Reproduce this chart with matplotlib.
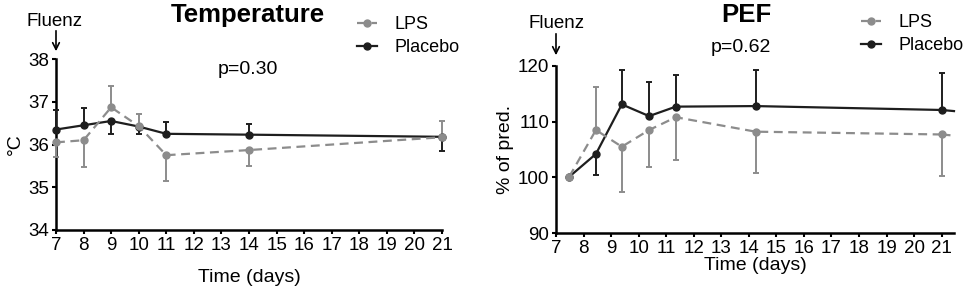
import matplotlib
matplotlib.use("Agg")
import matplotlib.pyplot as plt
from matplotlib.lines import Line2D
import numpy as np

plt.rcParams['font.family'] = ['Liberation Sans', 'DejaVu Sans']

# Temperature panel
temp_days = [7, 8, 9, 10, 11, 14, 21]
temp_placebo = [36.35, 36.45, 36.55, 36.42, 36.25, 36.23, 36.18]
temp_placebo_lo = [0, 0, 0.30, 0.17, 0, 0, 0.33]
temp_placebo_hi = [0.45, 0.40, 0, 0, 0.27, 0.24, 0]
temp_lps = [36.05, 36.10, 36.87, 36.43, 35.75, 35.87, 36.17]
temp_lps_lo = [0.35, 0.62, 0, 0, 0.60, 0.37, 0]
temp_lps_hi = [0, 0, 0.50, 0.29, 0, 0, 0.37]

# PEF panel
pef_days = [7.48, 8.45, 9.39, 10.38, 11.35, 14.25, 21.0]
pef_placebo = [100.1, 104.2, 113.1, 111.0, 112.7, 112.8, 112.1]
pef_placebo_lo = [0, 3.8, 0, 0, 0, 0, 0]
pef_placebo_hi = [0, 0, 6.1, 6.2, 5.6, 6.4, 6.6]
pef_lps = [100.1, 108.5, 105.5, 108.5, 110.8, 108.2, 107.7]
pef_lps_lo = [0, 0, 8.2, 6.6, 7.7, 7.5, 7.4]
pef_lps_hi = [0, 7.7, 0, 0, 0, 0, 0]
# lines run on a little past the last point
pef_tail_day = 21.45
pef_tail_placebo = 111.9
pef_tail_lps = 107.5

BLACK = "#1e1e1e"
GRAY = "#8c8c8c"
DASH = (0, (4, 2.5))

fig = plt.figure(figsize=(9.68, 2.89), dpi=100)
W, H = 968, 289


def px(x0, y0, x1, y1):
    return [x0 / W, 1 - y1 / H, (x1 - x0) / W, (y1 - y0) / H]


def style(ax):
    for s in ["top", "right"]:
        ax.spines[s].set_visible(False)
    for s in ["left", "bottom"]:
        ax.spines[s].set_linewidth(1.8)
        ax.spines[s].set_color("black")
    ax.tick_params(direction="out", length=3, width=1.5, labelsize=13.5, pad=2)


def draw(ax, x, y, lo, hi, color, ls):
    ax.errorbar(x, y, yerr=[lo, hi], color=color, ls=ls, lw=1.6, marker="o",
                ms=5, capsize=2.5, elinewidth=1.4, capthick=1.4,
                clip_on=False, zorder=3)


def legend(ax, x0, y0):
    handles = [Line2D([], [], color=GRAY, ls=DASH, lw=1.6, marker="o", ms=5),
               Line2D([], [], color=BLACK, ls="-", lw=1.6, marker="o", ms=5)]
    ax.legend(handles, ["LPS", "Placebo"], loc="upper left",
              bbox_to_anchor=(x0 / W, 1 - y0 / H), bbox_transform=fig.transFigure,
              frameon=False, fontsize=13, handlelength=1.1, handletextpad=1.0,
              labelspacing=0.35, borderpad=0, borderaxespad=0)


# ---- Temperature ----
ax1 = fig.add_axes(px(56, 59, 442, 230))
draw(ax1, temp_days, temp_placebo, temp_placebo_lo, temp_placebo_hi, BLACK, "-")
draw(ax1, temp_days, temp_lps, temp_lps_lo, temp_lps_hi, GRAY, DASH)
ax1.set_xlim(7, 21)
ax1.set_ylim(34, 38)
ax1.set_xticks(np.arange(7, 22))
ax1.set_yticks([34, 35, 36, 37, 38])
style(ax1)
ax1.set_ylabel("°C", fontsize=14, labelpad=3)
ax1.set_xlabel("Time (days)", fontsize=14, labelpad=11)
fig.text(248 / W, 1 - 15 / H, "Temperature", fontsize=18.5, fontweight="bold",
         ha="center", va="center")
fig.text(248 / W, 1 - 69 / H, "p=0.30", fontsize=14, ha="center", va="center")
fig.text(55 / W, 1 - 21 / H, "Fluenz", fontsize=13.5, ha="center", va="center")
fig.add_artist(matplotlib.patches.FancyArrowPatch((56 / W, 1 - 28 / H), (56 / W, 1 - 54 / H),
               transform=fig.transFigure, arrowstyle="->", mutation_scale=12, lw=1.2, color="black"))
legend(ax1, 357, 16)

# ---- PEF ----
ax2 = fig.add_axes(px(556, 66, 954, 233))
ax2.plot([pef_days[-1], pef_tail_day], [pef_placebo[-1], pef_tail_placebo], color=BLACK,
         lw=1.6, clip_on=False)
ax2.plot([pef_days[-1], pef_tail_day], [pef_lps[-1], pef_tail_lps], color=GRAY,
         ls=DASH, lw=1.6, clip_on=False)
draw(ax2, pef_days, pef_placebo, pef_placebo_lo, pef_placebo_hi, BLACK, "-")
draw(ax2, pef_days, pef_lps, pef_lps_lo, pef_lps_hi, GRAY, DASH)
ax2.set_xlim(7, 21.45)
ax2.set_ylim(90, 120)
ax2.set_xticks(np.arange(7, 22))
ax2.set_yticks([90, 100, 110, 120])
style(ax2)
ax2.set_ylabel("% of pred.", fontsize=14, labelpad=3)
ax2.set_xlabel("Time (days)", fontsize=14, labelpad=0)
fig.text(746 / W, 1 - 15 / H, "PEF", fontsize=18.5, fontweight="bold",
         ha="center", va="center")
fig.text(741 / W, 1 - 48 / H, "p=0.62", fontsize=14, ha="center", va="center")
fig.text(556 / W, 1 - 23 / H, "Fluenz", fontsize=13.5, ha="center", va="center")
fig.add_artist(matplotlib.patches.FancyArrowPatch((556 / W, 1 - 31 / H), (556 / W, 1 - 58 / H),
               transform=fig.transFigure, arrowstyle="->", mutation_scale=12, lw=1.2, color="black"))
legend(ax2, 861, 14)

fig.savefig("out.png", dpi=100)
plt.close(fig)
